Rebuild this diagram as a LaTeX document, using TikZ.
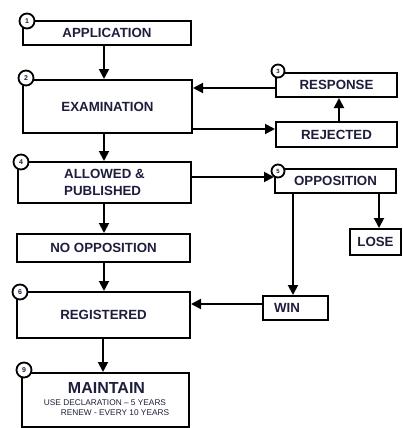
\documentclass[tikz,border=0pt]{standalone}
\usepackage{fontspec}
\setmainfont{Liberation Sans}
\usetikzlibrary{arrows.meta,shadows}
\definecolor{ink}{RGB}{30,30,60}
\begin{document}
\begin{tikzpicture}[x=1pt,y=-1pt,
  box/.style={draw=black, line width=2pt, fill=white, inner sep=0pt,
    drop shadow={shadow xshift=1.3pt, shadow yshift=-1.3pt, opacity=1, fill=black}},
  lbl/.style={font=\bfseries\fontsize{13.3}{17}\selectfont, text=ink},
  txt/.style={inner sep=0pt, text=ink},
  num/.style={circle, draw=black, line width=1.8pt, fill=white, minimum size=15pt,
    inner sep=0pt, font=\bfseries\fontsize{7}{7}\selectfont, text=ink},
  smallnum/.style={num, minimum size=13pt, font=\bfseries\fontsize{6}{6}\selectfont},
  arr/.style={line width=1.9pt, -{Triangle[length=10pt,width=10pt]}},
  ln/.style={line width=1.9pt}]
\useasboundingbox (0,0) rectangle (403,428);
\fill[white] (0,0) rectangle (403,428);

% boxes
\node[box, lbl, minimum width=168pt, minimum height=24pt] (app) at (107,33) {APPLICATION};
\node[box, lbl, minimum width=169pt, minimum height=53pt] (exam) at (107.5,106.5) {EXAMINATION};
\node[box, lbl, minimum width=173pt, minimum height=41pt, align=left] (allowed) at (104.5,182.5) {ALLOWED \&\\PUBLISHED};
\node[box, lbl, minimum width=173pt, minimum height=28pt] (noopp) at (103.5,248) {NO OPPOSITION};
\node[box, lbl, minimum width=173pt, minimum height=46pt] (reg) at (103.5,315) {REGISTERED};
\node[box, minimum width=167pt, minimum height=54pt] (maint) at (105.5,400) {};
\node[box, lbl, minimum width=121pt, minimum height=24pt] (resp) at (336.5,85) {RESPONSE};
\node[box, lbl, minimum width=121pt, minimum height=25pt] (rej) at (336.5,134.5) {REJECTED};
\node[box, lbl, minimum width=121pt, minimum height=24pt] (opp) at (335.5,181) {OPPOSITION};
\node[box, lbl, minimum width=51pt, minimum height=26pt] (lose) at (375.5,242) {LOSE};
\node[box, minimum width=65pt, minimum height=24pt] (win) at (295.5,308) {};

% texts placed separately
\node[txt, lbl, inner sep=0pt] (wintxt) at (287,308) {WIN};
\node[txt, font=\bfseries\fontsize{16}{16}\selectfont] (mainttxt) at (106.5,388) {MAINTAIN};
\node[txt, font=\fontsize{8.3}{9}\selectfont] (use) at (105,403) {USE DECLARATION -- 5 YEARS};
\node[txt, font=\fontsize{8.3}{9}\selectfont] (renew) at (115,412.5) {RENEW - EVERY 10 YEARS};

% numbered circles
\node[num] (n1) at (27,21) {1};
\node[num] (n2) at (26,78) {2};
\node[num] (n4) at (21,162) {4};
\node[num] (n6) at (20,292) {6};
\node[num] (n9) at (24,370) {9};
\node[smallnum] (n3) at (278,71) {3};
\node[smallnum] (n5) at (278,171) {5};

% connectors
\draw[arr] (app.south -| 104,0) -- (exam.north -| 104,0);
\draw[arr] (exam.south -| 104,0) -- (allowed.north -| 104,0);
\draw[arr] (allowed.south -| 104,0) -- (noopp.north -| 104,0);
\draw[arr] (noopp.south -| 104,0) -- (reg.north -| 104,0);
\draw[arr] (reg.south -| 103,0) -- (maint.north -| 103,0);
\draw[arr] (resp.west |- 0,88) -- (exam.east |- 0,88);
\draw[arr] (exam.east |- 0,129) -- (rej.west |- 0,129);
\draw[arr] (rej.north -| 339,0) -- (resp.south -| 339,0);
\draw[arr] (allowed.east |- 0,177) -- (opp.west |- 0,177);
\draw[arr] (opp.south -| 379,0) -- (lose.north -| 379,0);
\draw[arr] (opp.south -| 293,0) -- (win.north -| 293,0);
\draw[arr] (win.west |- 0,304) -- (reg.east |- 0,304);
\end{tikzpicture}
\end{document}
